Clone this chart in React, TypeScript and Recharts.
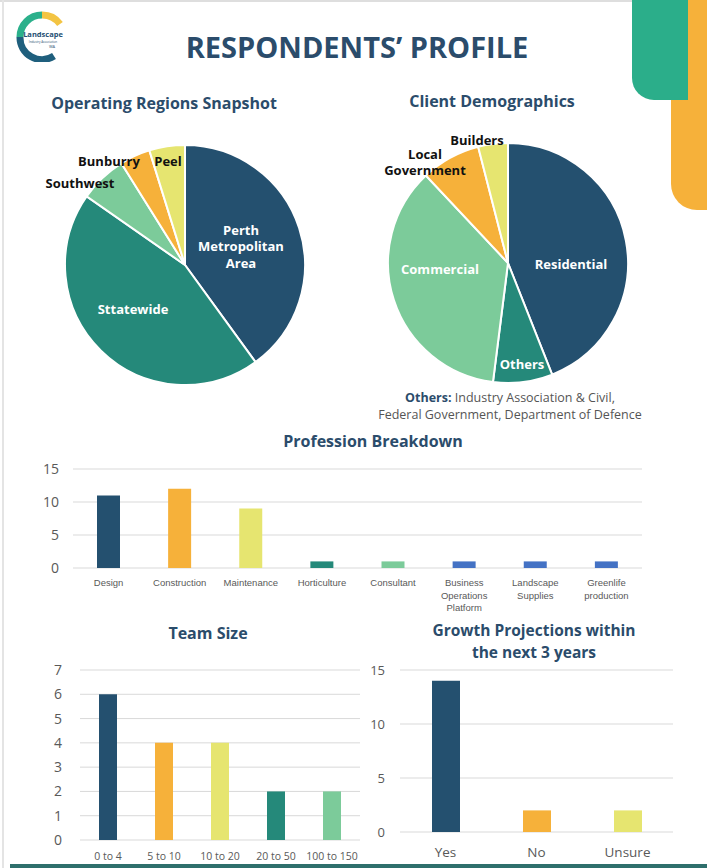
import React from 'react';
import { PieChart, Pie, Cell, BarChart, Bar, XAxis, YAxis, CartesianGrid } from 'recharts';

const regionNames = ['Perth Metropolitan Area', 'Sttatewide', 'Southwest', 'Bunburry', 'Peel'];
const regionValues = [40, 44.7, 6.4, 4.1, 4.8];

const clientNames = ['Residential', 'Others', 'Commercial', 'Local Government', 'Builders'];
const clientValues = [11, 2, 9, 2, 1];

const professionNames = [
  'Design', 'Construction', 'Maintenance', 'Horticulture', 'Consultant',
  'Business Operations Platform', 'Landscape Supplies', 'Greenlife production',
];
const professionValues = [11, 12, 9, 1, 1, 1, 1, 1];
const professionTicks = [0, 5, 10, 15];

const teamSizeNames = ['0 to 4', '5 to 10', '10 to 20', '20 to 50', '100 to 150'];
const teamSizeValues = [6, 4, 4, 2, 2];
const teamSizeTicks = [0, 1, 2, 3, 4, 5, 6, 7];

const growthNames = ['Yes', 'No', 'Unsure'];
const growthValues = [14, 2, 2];
const growthTicks = [0, 5, 10, 15];

const NAVY = '#24506f';
const TEAL = '#25897a';
const LIGHT_GREEN = '#7ccb9a';
const ORANGE = '#f6b13a';
const YELLOW = '#e6e570';
const BLUE = '#4472c4';
const TITLE = '#2b4c6b';
const GRID = '#d9d9d9';
const TICK = '#595959';

const regionColors = [NAVY, TEAL, LIGHT_GREEN, ORANGE, YELLOW];
const clientColors = [NAVY, TEAL, LIGHT_GREEN, ORANGE, YELLOW];
const professionColors = [NAVY, ORANGE, YELLOW, TEAL, LIGHT_GREEN, BLUE, BLUE, BLUE];
const teamSizeColors = [NAVY, ORANGE, YELLOW, TEAL, LIGHT_GREEN];
const growthColors = [NAVY, ORANGE, YELLOW];

// label placement (offset from the pie centre) and text colour per slice
const regionLabelAt = [[56, -19], [-52, 44], [-105, -82], [-76, -104], [-17, -104]];
const regionLabelFill = ['#fff', '#fff', '#111', '#111', '#111'];
const clientLabelAt = [[63, 1], [14, 101], [-68, 6], [-83, -101], [-31, -123]];
const clientLabelFill = ['#fff', '#fff', '#fff', '#111', '#111'];

const FONT = '"Open Sans", "Noto Sans", sans-serif';

const regionData = regionNames.map((name, i) => ({ name, value: regionValues[i] }));
const clientData = clientNames.map((name, i) => ({ name, value: clientValues[i] }));
const professionData = professionNames.map((name, i) => ({ name, value: professionValues[i] }));
const teamSizeData = teamSizeNames.map((name, i) => ({ name, value: teamSizeValues[i] }));
const growthData = growthNames.map((name, i) => ({ name, value: growthValues[i] }));

const makePieLabel = (offsets: number[][], fills: string[]) => (props: any) => {
  const { cx, cy, index } = props;
  const name = String(props.name ?? props.payload?.name ?? '');
  const [dx, dy] = offsets[index];
  const lines = name.split(' ');
  const lh = 16.5;
  const top = cy + dy - ((lines.length - 1) * lh) / 2;
  return (
    <text
      key={`l-${index}`}
      x={cx + dx}
      y={top}
      textAnchor="middle"
      dominantBaseline="central"
      fill={fills[index]}
      fontFamily={FONT}
      fontWeight={700}
      fontSize={13}
    >
      {lines.map((l, i) => (
        <tspan key={i} x={cx + dx} y={top + i * lh}>{l}</tspan>
      ))}
    </text>
  );
};

const WrapTick = (props: any) => {
  const { x, y, payload, fontSize, lineHeight, offset, fontFamily, maxChars } = props;
  const text = String(payload.value);
  const lines = text.length > maxChars ? text.split(' ') : [text];
  return (
    <text x={x} y={y + offset} textAnchor="middle" fontSize={fontSize} fill={TICK} fontFamily={fontFamily}>
      {lines.map((l: string, i: number) => (
        <tspan key={i} x={x} dy={i === 0 ? 0 : lineHeight}>{l}</tspan>
      ))}
    </text>
  );
};

const Title = ({ x, y, children, size = 16 }: any) => (
  <div
    style={{
      position: 'absolute', left: x - 200, top: y, width: 400, textAlign: 'center',
      color: TITLE, fontWeight: 700, fontSize: size, lineHeight: '18px', fontFamily: FONT,
    }}
  >
    {children}
  </div>
);

const Logo = () => (
  <svg width={64} height={56} style={{ position: 'absolute', left: 8, top: 6 }}>
    <path d="M 34 9 A 22 22 0 0 0 12 31" stroke="#2bb08b" strokeWidth={7} fill="none" />
    <path d="M 34 9 A 22 22 0 0 1 52 18" stroke="#f3c443" strokeWidth={7} fill="none" />
    <path d="M 12 31 A 22 22 0 0 0 46 50" stroke="#1f5f7d" strokeWidth={7} fill="none" />
    <text x={35} y={31} textAnchor="middle" fontFamily={FONT} fontWeight={700} fontSize={7.5} fill="#1f4f72">Landscape</text>
    <text x={35} y={37} textAnchor="middle" fontFamily={FONT} fontSize={3} fill="#1f4f72">Industry Association</text>
    <text x={44} y={42} textAnchor="middle" fontFamily={FONT} fontSize={4} fill="#1f4f72">WA</text>
  </svg>
);

const App = () => (
  <div
    style={{
      position: 'absolute', left: 0, top: 0, width: 707, height: 868,
      background: '#fff', overflow: 'hidden', fontFamily: FONT,
    }}
  >
    {/* page frame and decoration */}
    <div style={{ position: 'absolute', left: 0, top: 0, width: 707, height: 2, background: '#dedede' }} />
    <div style={{ position: 'absolute', left: 2, top: 0, width: 2, height: 868, background: '#e4e4e4' }} />
    <div style={{ position: 'absolute', left: 671, top: 0, width: 40, height: 210, background: ORANGE, borderBottomLeftRadius: 26 }} />
    <div style={{ position: 'absolute', left: 632, top: 0, width: 56, height: 100, background: '#2bae8a', borderBottomLeftRadius: 22 }} />
    <div style={{ position: 'absolute', left: 10, top: 864, width: 697, height: 4, background: '#2e6f6c' }} />
    <Logo />

    <div
      style={{
        position: 'absolute', left: 0, top: 28, width: 714, textAlign: 'center',
        color: TITLE, fontWeight: 700, fontSize: 29, lineHeight: '38px', fontFamily: FONT,
      }}
    >
      RESPONDENTS’ PROFILE
    </div>

    <Title x={164} y={94}>Operating Regions Snapshot</Title>
    <Title x={492} y={92}>Client Demographics</Title>
    <Title x={373} y={432}>Profession Breakdown</Title>
    <Title x={208} y={624}>Team Size</Title>
    <Title x={534} y={621} size={15.5}>Growth Projections within</Title>
    <Title x={534} y={643} size={15.5}>the next 3 years</Title>

    <div style={{ position: 'absolute', left: 30, top: 110 }}>
      <PieChart width={300} height={300}>
        <Pie
          data={regionData}
          dataKey="value"
          nameKey="name"
          cx={150}
          cy={150}
          outerRadius={120}
          startAngle={90}
          endAngle={-270}
          stroke="#fff"
          strokeWidth={2}
          labelLine={false}
          label={makePieLabel(regionLabelAt, regionLabelFill)}
          isAnimationActive={false}
        >
          {regionData.map((d, i) => <Cell key={d.name} fill={regionColors[i]} />)}
        </Pie>
      </PieChart>
    </div>

    <div style={{ position: 'absolute', left: 353, top: 108 }}>
      <PieChart width={300} height={300}>
        <Pie
          data={clientData}
          dataKey="value"
          nameKey="name"
          cx={150}
          cy={150}
          outerRadius={120}
          startAngle={90}
          endAngle={-270}
          stroke="#fff"
          strokeWidth={2}
          labelLine={false}
          label={makePieLabel(clientLabelAt, clientLabelFill)}
          isAnimationActive={false}
        >
          {clientData.map((d, i) => <Cell key={d.name} fill={clientColors[i]} />)}
        </Pie>
      </PieChart>
    </div>

    <div
      style={{
        position: 'absolute', left: 360, top: 389, width: 300, textAlign: 'center',
        fontSize: 12.5, lineHeight: '17px', color: '#555', fontFamily: FONT,
      }}
    >
      <span style={{ color: TITLE, fontWeight: 700 }}>Others:</span> Industry Association &amp; Civil,
      <br />
      Federal Government, Department of Defence
    </div>

    <div style={{ position: 'absolute', left: 0, top: 455 }}>
      <BarChart width={700} height={165} data={professionData} margin={{ top: 14, right: 58, left: 0, bottom: 0 }}>
        <CartesianGrid vertical={false} stroke={GRID} />
        <XAxis
          dataKey="name"
          height={52}
          axisLine={false}
          tickLine={false}
          tickSize={0}
          tickMargin={0}
          interval={0}
          tick={(p: any) => (
            <WrapTick {...p} fontSize={9.5} lineHeight={12.5} offset={18} fontFamily='"Liberation Sans", sans-serif' maxChars={13} />
          )}
        />
        <YAxis
          width={73}
          domain={[0, 15]}
          ticks={professionTicks}
          axisLine={false}
          tickLine={false}
          tickSize={0}
          tickMargin={14}
          tick={{ fill: TICK, fontSize: 14, fontFamily: FONT }}
        />
        <Bar dataKey="value" barSize={23} isAnimationActive={false}>
          {professionData.map((d, i) => <Cell key={d.name} fill={professionColors[i]} />)}
        </Bar>
      </BarChart>
    </div>

    <div style={{ position: 'absolute', left: 0, top: 660 }}>
      <BarChart width={380} height={208} data={teamSizeData} margin={{ top: 10, right: 20, left: 0, bottom: 0 }}>
        <CartesianGrid vertical={false} stroke={GRID} />
        <XAxis
          dataKey="name"
          height={28}
          axisLine={false}
          tickLine={false}
          tickSize={0}
          tickMargin={0}
          interval={0}
          tick={(p: any) => (
            <WrapTick {...p} fontSize={10.5} lineHeight={12} offset={20} fontFamily={FONT} maxChars={20} />
          )}
        />
        <YAxis
          width={80}
          domain={[0, 7]}
          ticks={teamSizeTicks}
          axisLine={false}
          tickLine={false}
          tickSize={0}
          tickMargin={18}
          tick={{ fill: TICK, fontSize: 14, fontFamily: FONT }}
        />
        <Bar dataKey="value" barSize={18} isAnimationActive={false}>
          {teamSizeData.map((d, i) => <Cell key={d.name} fill={teamSizeColors[i]} />)}
        </Bar>
      </BarChart>
    </div>

    <div style={{ position: 'absolute', left: 340, top: 660 }}>
      <BarChart width={367} height={208} data={growthData} margin={{ top: 10, right: 34, left: 0, bottom: 0 }}>
        <CartesianGrid vertical={false} stroke={GRID} />
        <XAxis
          dataKey="name"
          height={36}
          axisLine={false}
          tickLine={false}
          tickSize={0}
          tickMargin={0}
          interval={0}
          tick={(p: any) => (
            <WrapTick {...p} fontSize={13.5} lineHeight={14} offset={25} fontFamily={FONT} maxChars={20} />
          )}
        />
        <YAxis
          width={60}
          domain={[0, 15]}
          ticks={growthTicks}
          axisLine={false}
          tickLine={false}
          tickSize={0}
          tickMargin={15}
          tick={{ fill: TICK, fontSize: 13, fontFamily: FONT }}
        />
        <Bar dataKey="value" barSize={28} isAnimationActive={false}>
          {growthData.map((d, i) => <Cell key={d.name} fill={growthColors[i]} />)}
        </Bar>
      </BarChart>
    </div>
  </div>
);

export default App;
